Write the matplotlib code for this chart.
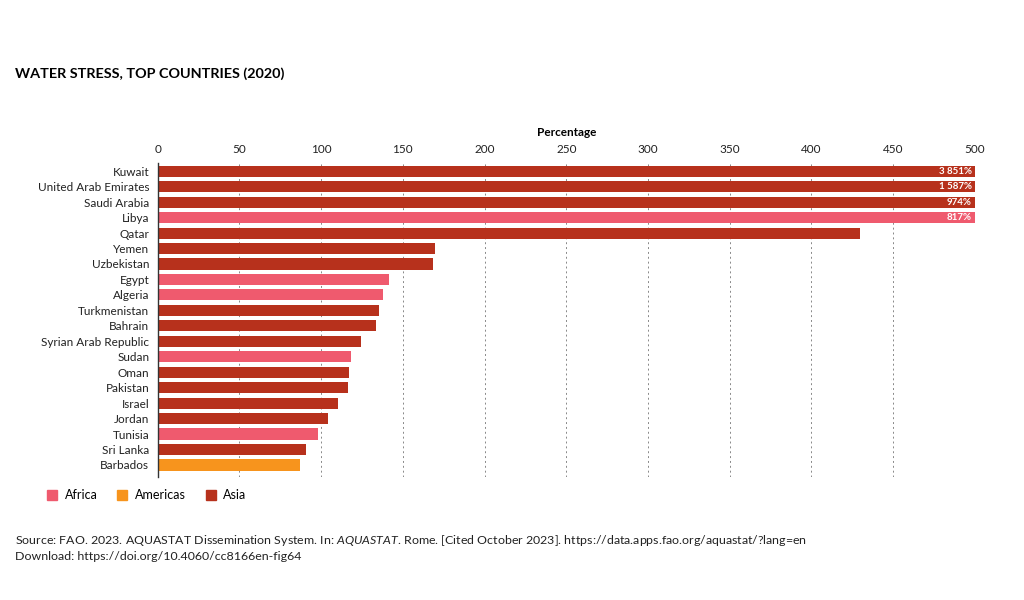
import numpy as np
import matplotlib.pyplot as plt
from matplotlib.patches import Patch

plt.rcParams['font.family'] = ['Lato', 'DejaVu Sans']
plt.rcParams['mathtext.fontset'] = 'custom'
plt.rcParams['mathtext.rm'] = 'Lato'
plt.rcParams['mathtext.it'] = 'Lato:italic'

# data (percentage)
countries = ['Kuwait', 'United Arab Emirates', 'Saudi Arabia', 'Libya', 'Qatar',
             'Yemen', 'Uzbekistan', 'Egypt', 'Algeria', 'Turkmenistan', 'Bahrain',
             'Syrian Arab Republic', 'Sudan', 'Oman', 'Pakistan', 'Israel', 'Jordan',
             'Tunisia', 'Sri Lanka', 'Barbados']
values = [3851, 1587, 974, 817, 430, 169.5, 168.3, 141.4, 137.8, 135.2, 133.8,
          124.6, 118.5, 116.9, 116.5, 110.3, 104.2, 98.2, 91.0, 87.3]
regions = ['Asia', 'Asia', 'Asia', 'Africa', 'Asia', 'Asia', 'Asia', 'Africa',
           'Africa', 'Asia', 'Asia', 'Asia', 'Africa', 'Asia', 'Asia', 'Asia',
           'Asia', 'Africa', 'Asia', 'Americas']
over_labels = ['3 851%', '1 587%', '974%', '817%']

colors = {'Africa': '#EF5A6E', 'Americas': '#F7941D', 'Asia': '#B7311C'}
xmax = 500

fig = plt.figure(figsize=(10.24, 6), dpi=100)
ax = fig.add_axes([0.154, 0.205, 0.798, 0.523])

y = np.arange(len(countries))
bar_colors = [colors[r] for r in regions]
ax.barh(y, values, height=0.72, color=bar_colors, zorder=3)
ax.set_xlim(0, xmax)
ax.set_ylim(19.78, -0.52)

# labels for clipped bars
for i, lab in enumerate(over_labels):
    ax.text(xmax - 2, i, lab, ha='right', va='center', color='white',
            fontsize=7, fontweight='bold', zorder=4)

ax.set_yticks(y)
ax.set_yticklabels(countries, fontsize=8.5)
ax.set_xticks(np.arange(0, 501, 50))
ax.xaxis.tick_top()
ax.xaxis.set_label_position('top')
ax.set_xlabel('Percentage', fontsize=8.5, fontweight='bold', labelpad=6)
ax.tick_params(axis='both', length=0, labelsize=8.5, colors='#222222')
ax.tick_params(axis='y', pad=6)
ax.tick_params(axis='x', pad=6)
ax.grid(axis='x', linestyle=(0, (2, 3)), color='#888888', linewidth=0.7, zorder=0)
for s in ['top', 'right', 'bottom']:
    ax.spines[s].set_visible(False)
ax.spines['left'].set_color('#333333')
ax.spines['left'].set_linewidth(1)
ax.spines['left'].set_zorder(5)

# legend
handles = [Patch(color=colors[k], label=k) for k in ['Africa', 'Americas', 'Asia']]
fig.legend(handles=handles, loc='upper left', bbox_to_anchor=(0.035, 0.203), ncol=3,
           frameon=False, fontsize=9, handlelength=0.8, handleheight=0.8,
           handletextpad=0.6, columnspacing=1.6)

fig.text(0.015, 0.878, 'WATER STRESS, TOP COUNTRIES (2020)', fontsize=10.4,
         fontweight='bold', ha='left', va='center')
fig.text(0.015, 0.1, 'Source: FAO. 2023. AQUASTAT Dissemination System. In: $\\it{AQUASTAT}$. Rome. '
         '[Cited October 2023]. https://data.apps.fao.org/aquastat/?lang=en',
         fontsize=8.9, ha='left', va='center', color='#222222')
fig.text(0.015, 0.073, 'Download: https://doi.org/10.4060/cc8166en-fig64',
         fontsize=8.9, ha='left', va='center', color='#222222')

fig.savefig('out.png', dpi=100)
